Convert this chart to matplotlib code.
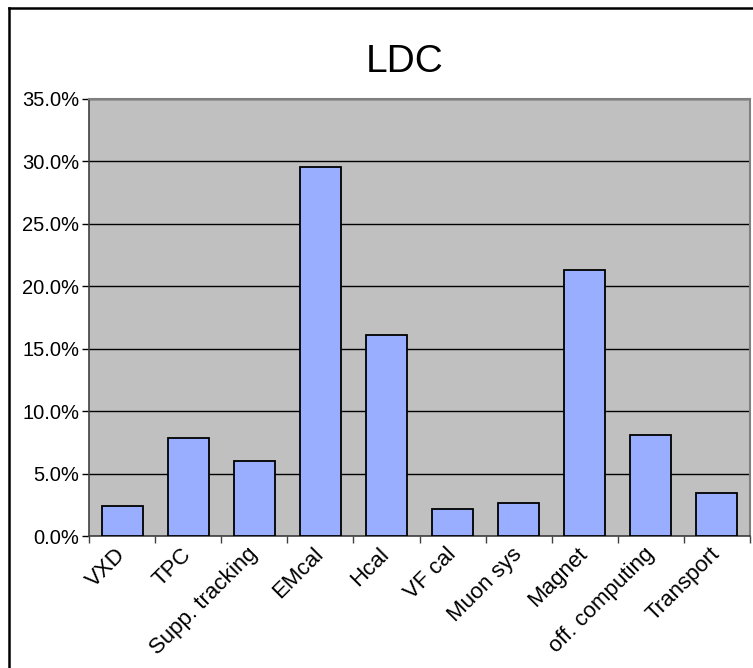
import matplotlib
matplotlib.use("Agg")
import matplotlib.pyplot as plt
from matplotlib.lines import Line2D
from matplotlib.ticker import FuncFormatter, FixedLocator

plt.rcParams['font.family'] = ['Liberation Sans', 'DejaVu Sans']

categories = ["VXD", "TPC", "Supp. tracking", "EMcal", "Hcal", "VF cal",
              "Muon sys", "Magnet", "off. computing", "Transport"]
values = [2.4, 7.85, 6.0, 29.55, 16.1, 2.15, 2.65, 21.3, 8.1, 3.45]
yticks = [0, 5, 10, 15, 20, 25, 30, 35]

fig = plt.figure(figsize=(7.53, 6.68), dpi=100)
ax = fig.add_axes([89/753, 1-536/668, (750-89)/753, (536-99)/668])
ax.set_facecolor('#C0C0C0')

x = list(range(len(categories)))
ax.bar(x, values, width=0.62, color='#99AEFF', edgecolor='black', linewidth=1.3, zorder=3)
ax.set_xlim(-0.5, len(categories) - 0.5)
ax.set_ylim(0, 35)
ax.set_yticks(yticks)
ax.yaxis.set_major_formatter(FuncFormatter(lambda v, p: f"{v:.1f}%"))
ax.yaxis.grid(True, color='black', linewidth=1.0, zorder=1)
ax.set_axisbelow(True)

ax.xaxis.set_major_locator(FixedLocator([i + 0.5 for i in range(-1, len(categories))]))
ax.set_xticklabels([])
ax.xaxis.set_minor_locator(FixedLocator(x))
ax.set_xticklabels(categories, minor=True, rotation=45, ha='right', va='center',
                   rotation_mode='anchor', fontsize=16)
ax.tick_params(axis='x', which='minor', length=0, pad=11)
ax.tick_params(axis='x', which='major', length=5, width=1, color='#404040', direction='out')
ax.tick_params(axis='y', length=5, width=1, labelsize=14.5, color='black', pad=2)

for s in ['top', 'right']:
    ax.spines[s].set_color('#808080')
    ax.spines[s].set_linewidth(1.5)
ax.spines['left'].set_color('#404040')
ax.spines['bottom'].set_color('#404040')
ax.spines['left'].set_linewidth(1.2)
ax.spines['bottom'].set_linewidth(1.2)

fig.text(405/753, 1-62/668, "LDC", ha='center', va='center', fontsize=28)

# figure frame lines (left and top)
fig.add_artist(Line2D([9/753, 9/753], [0, 1-8/668], color='black', linewidth=1.8,
                      transform=fig.transFigure))
fig.add_artist(Line2D([9/753, 1], [1-8/668, 1-8/668], color='black', linewidth=1.8,
                      transform=fig.transFigure))

fig.savefig("out.png", dpi=100)
